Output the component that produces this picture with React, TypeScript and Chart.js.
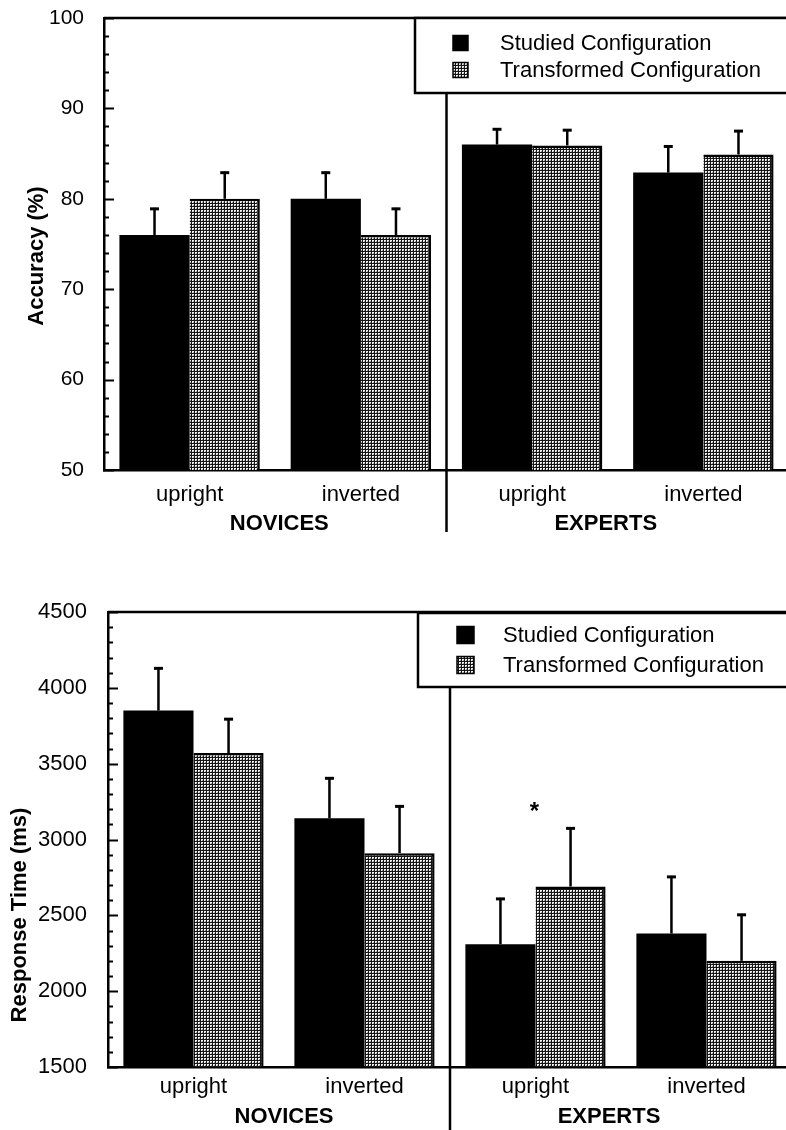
import React, { useEffect, useRef } from "react";
import { Chart, registerables } from "chart.js";
Chart.register(...registerables);

// ---------- data ----------
const categories = ["upright", "inverted", "upright", "inverted"];
const groups = ["NOVICES", "EXPERTS"];
const seriesNames = ["Studied Configuration", "Transformed Configuration"];

const accStudied = [76, 80, 86, 82.9];
const accTransformed = [80, 76, 85.9, 84.9];
const accStudiedErr = [3, 3, 1.8, 3];
const accTransformedErr = [3, 3, 1.8, 2.7];
const accTicks = [50, 60, 70, 80, 90, 100];

const rtStudied = [3850, 3140, 2310, 2380];
const rtTransformed = [3570, 2910, 2690, 2200];
const rtStudiedErr = [285, 270, 305, 380];
const rtTransformedErr = [230, 315, 390, 310];
const rtTicks = [1500, 2000, 2500, 3000, 3500, 4000, 4500];

const starCategory = 2;
const starValue = 3230;

const FONT = "'Liberation Sans', Arial, Helvetica, sans-serif";

function makePattern(): CanvasPattern | string {
  const c = document.createElement("canvas");
  c.width = 3;
  c.height = 3;
  const g = c.getContext("2d");
  if (!g) return "#888";
  g.fillStyle = "#151515";
  g.fillRect(0, 0, 3, 3);
  g.fillStyle = "#f2f2f2";
  g.fillRect(0, 0, 2, 2);
  g.fillStyle = "#9a9a9a";
  g.fillRect(1, 1, 1, 1);
  return g.createPattern(c, "repeat") || "#888";
}

type Layout = {
  yTitle: string;
  yTitleX: number;
  yTitleY: number;
  legendLeft: number;
  legendTop: number;
  legendBottom: number;
  markerX: number;
  markerSize: number;
  rowY: number[];
  textX: number;
  dividerBottom: number;
  groupY: number;
  groupOffsets: number[];
  minorStep: number;
  majorStep: number;
  star?: boolean;
};

function decorPlugin(L: Layout, errs: number[][], pattern: CanvasPattern | string) {
  return {
    id: "decor",
    afterDatasetsDraw(chart: any) {
      const ctx = chart.ctx as CanvasRenderingContext2D;
      const y = chart.scales.y;
      ctx.save();
      ctx.strokeStyle = "#000";
      chart.data.datasets.forEach((ds: any, di: number) => {
        const meta = chart.getDatasetMeta(di);
        meta.data.forEach((el: any, i: number) => {
          const v = ds.data[i] as number;
          const top = y.getPixelForValue(v + errs[di][i]);
          ctx.lineWidth = 2.5;
          ctx.beginPath();
          ctx.moveTo(el.x, el.y);
          ctx.lineTo(el.x, top);
          ctx.stroke();
          ctx.lineWidth = 3;
          ctx.beginPath();
          ctx.moveTo(el.x - 4.5, top + 1);
          ctx.lineTo(el.x + 4.5, top + 1);
          ctx.stroke();
        });
      });
      ctx.restore();
    },
    afterDraw(chart: any) {
      const ctx = chart.ctx as CanvasRenderingContext2D;
      const { left, top } = chart.chartArea;
      const x = chart.scales.x;
      const y = chart.scales.y;
      const W = chart.width;
      ctx.save();
      ctx.strokeStyle = "#000";
      ctx.fillStyle = "#000";
      // top frame line
      ctx.lineWidth = 2.5;
      ctx.beginPath();
      ctx.moveTo(left, top);
      ctx.lineTo(W + 5, top);
      ctx.stroke();
      // inward ticks
      ctx.lineWidth = 2;
      for (let v = y.min; v <= y.max + 1e-6; v += L.minorStep) {
        const py = Math.round(y.getPixelForValue(v)) + 0.5;
        const major = Math.abs(v / L.majorStep - Math.round(v / L.majorStep)) < 1e-6;
        ctx.beginPath();
        ctx.moveTo(left - 1, py);
        ctx.lineTo(left + (major ? 10 : 5), py);
        ctx.stroke();
      }
      // divider
      const dx = (x.getPixelForValue(1) + x.getPixelForValue(2)) / 2;
      ctx.lineWidth = 2.5;
      ctx.beginPath();
      ctx.moveTo(dx, L.legendBottom);
      ctx.lineTo(dx, L.dividerBottom);
      ctx.stroke();
      // legend box
      ctx.fillStyle = "#fff";
      ctx.fillRect(L.legendLeft, L.legendTop, W + 10 - L.legendLeft, L.legendBottom - L.legendTop);
      ctx.lineWidth = 2.5;
      ctx.strokeRect(L.legendLeft, L.legendTop, W + 10 - L.legendLeft, L.legendBottom - L.legendTop);
      chart.data.datasets.forEach((ds: any, i: number) => {
        const cy = L.rowY[i];
        const s = L.markerSize;
        ctx.fillStyle = i === 0 ? "#000" : (pattern as any);
        ctx.fillRect(L.markerX, cy - s / 2, s, s);
        ctx.lineWidth = 1.5;
        ctx.strokeRect(L.markerX, cy - s / 2, s, s);
        ctx.fillStyle = "#000";
        ctx.font = `22px ${FONT}`;
        ctx.textAlign = "left";
        ctx.textBaseline = "middle";
        ctx.fillText(ds.label, L.textX, cy + 1);
      });
      // group labels
      ctx.font = `bold 22px ${FONT}`;
      ctx.textAlign = "center";
      ctx.textBaseline = "middle";
      groups.forEach((g, gi) => {
        const cx = (x.getPixelForValue(gi * 2) + x.getPixelForValue(gi * 2 + 1)) / 2 + L.groupOffsets[gi];
        ctx.fillText(g, cx, L.groupY);
      });
      // y title
      ctx.save();
      ctx.translate(L.yTitleX, L.yTitleY);
      ctx.rotate(-Math.PI / 2);
      ctx.font = `bold 22px ${FONT}`;
      ctx.textAlign = "center";
      ctx.textBaseline = "middle";
      ctx.fillText(L.yTitle, 0, 0);
      ctx.restore();
      // significance star
      if (L.star) {
        ctx.font = `bold 24px ${FONT}`;
        ctx.textAlign = "center";
        ctx.textBaseline = "alphabetic";
        ctx.fillText("*", x.getPixelForValue(starCategory) - 1, y.getPixelForValue(starValue) + 14);
      }
      ctx.restore();
    },
  };
}

function makeConfig(
  studied: number[],
  transformed: number[],
  errs: number[][],
  ticks: number[],
  L: Layout,
  opts: { padTop: number; yWidth: number; xHeight: number; xPad: number; yPad: number; yFont: number },
  pattern: CanvasPattern | string
): any {
  return {
    type: "bar",
    data: {
      labels: categories,
      datasets: [
        {
          label: seriesNames[0],
          data: studied,
          backgroundColor: "#000",
          borderColor: "#000",
          borderWidth: 0,
          categoryPercentage: 0.82,
          barPercentage: 1,
        },
        {
          label: seriesNames[1],
          data: transformed,
          backgroundColor: pattern,
          borderColor: "#000",
          borderWidth: { top: 2.5, right: 2.5, left: 0, bottom: 0 },
          categoryPercentage: 0.82,
          barPercentage: 1,
        },
      ],
    },
    options: {
      responsive: false,
      animation: false,
      devicePixelRatio: 1,
      layout: { padding: { top: opts.padTop, right: 0, left: 0, bottom: 0 } },
      plugins: { legend: { display: false }, tooltip: { enabled: false }, title: { display: false } },
      scales: {
        x: {
          grid: { display: false, drawTicks: false },
          border: { display: true, color: "#000", width: 2.5 },
          ticks: { color: "#000", font: { size: 22, family: FONT }, padding: opts.xPad, maxRotation: 0 },
          afterFit: (s: any) => {
            s.height = opts.xHeight;
            s.paddingLeft = 0;
            s.paddingRight = 0;
            s.paddingTop = 0;
            s.paddingBottom = 0;
          },
        },
        y: {
          min: ticks[0],
          max: ticks[ticks.length - 1],
          afterBuildTicks: (s: any) => {
            s.ticks = ticks.map((v) => ({ value: v }));
          },
          grid: { display: false, drawTicks: false },
          border: { display: true, color: "#000", width: 2.5 },
          ticks: {
            color: "#000",
            font: { size: opts.yFont, family: FONT },
            padding: opts.yPad,
            callback: (v: any) => String(v),
          },
          afterFit: (s: any) => {
            s.width = opts.yWidth;
            s.paddingTop = 0;
            s.paddingBottom = 0;
            s.paddingLeft = 0;
            s.paddingRight = 0;
          },
        },
      },
    },
    plugins: [decorPlugin(L, errs, pattern)],
  };
}

// canvases are a little wider than the page so the last category ends past the edge, as in the figure
const TOP_W = 789;
const BOT_W = 792;

export default function App() {
  const topRef = useRef<HTMLCanvasElement>(null);
  const botRef = useRef<HTMLCanvasElement>(null);

  useEffect(() => {
    const pattern = makePattern();
    const topLayout: Layout = {
      yTitle: "Accuracy (%)",
      yTitleX: 37,
      yTitleY: 256,
      legendLeft: 415,
      legendTop: 18,
      legendBottom: 93,
      markerX: 453,
      markerSize: 15,
      rowY: [43, 70],
      textX: 500,
      dividerBottom: 532,
      groupY: 524,
      groupOffsets: [4, -12],
      minorStep: 2,
      majorStep: 10,
    };
    const botLayout: Layout = {
      yTitle: "Response Time (ms)",
      yTitleX: 20,
      yTitleY: 355,
      legendLeft: 418,
      legendTop: 53,
      legendBottom: 127,
      markerX: 457,
      markerSize: 17,
      rowY: [75, 105],
      textX: 503,
      dividerBottom: 575,
      groupY: 557,
      groupOffsets: [5, -12],
      minorStep: 100,
      majorStep: 500,
      star: true,
    };
    const c1 = new Chart(
      topRef.current as HTMLCanvasElement,
      makeConfig(
        accStudied,
        accTransformed,
        [accStudiedErr, accTransformedErr],
        accTicks,
        topLayout,
        { padTop: 18, yWidth: 104, xHeight: 90, xPad: 12, yPad: 20, yFont: 21 },
        pattern
      )
    );
    const c2 = new Chart(
      botRef.current as HTMLCanvasElement,
      makeConfig(
        rtStudied,
        rtTransformed,
        [rtStudiedErr, rtTransformedErr],
        rtTicks,
        botLayout,
        { padTop: 52, yWidth: 108, xHeight: 63, xPad: 7, yPad: 21, yFont: 22 },
        pattern
      )
    );
    return () => {
      c1.destroy();
      c2.destroy();
    };
  }, []);

  return (
    <div style={{ position: "absolute", left: 0, top: 0, width: 786, height: 1130, background: "#fff", overflow: "hidden" }}>
      <canvas ref={topRef} width={TOP_W} height={560} style={{ position: "absolute", left: 0, top: 0, width: TOP_W, height: 560 }} />
      <canvas ref={botRef} width={BOT_W} height={570} style={{ position: "absolute", left: 0, top: 560, width: BOT_W, height: 570 }} />
    </div>
  );
}
